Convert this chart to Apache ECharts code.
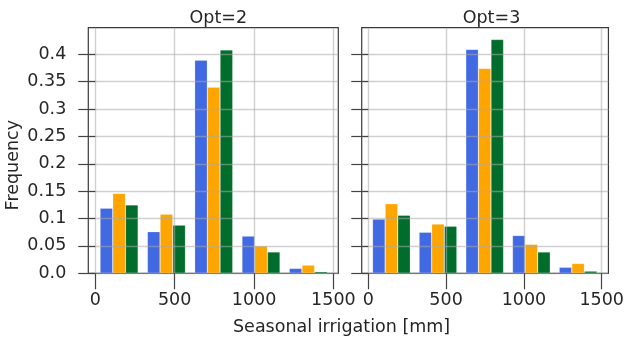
<!DOCTYPE html>
<html>
<head>
<meta charset="utf-8">
<script src="https://cdn.jsdelivr.net/npm/echarts@6/dist/echarts.min.js"></script>
<style>
  html, body { margin: 0; padding: 0; background: #fff; }
  #chart { width: 627px; height: 340px; }
</style>
</head>
<body>
<div id="chart"></div>
<script>
// Histogram bin centres (mm) for each panel
const binCentersOpt2 = [150, 448, 746, 1044, 1342];
const binCentersOpt3 = [149, 448, 748, 1048, 1348];

// Relative frequencies per bin, three groups per panel
const opt2Blue   = [0.119, 0.076, 0.389, 0.068, 0.009];
const opt2Orange = [0.146, 0.108, 0.340, 0.050, 0.015];
const opt2Green  = [0.125, 0.088, 0.408, 0.039, 0.003];

const opt3Blue   = [0.099, 0.075, 0.409, 0.069, 0.011];
const opt3Orange = [0.127, 0.090, 0.374, 0.053, 0.018];
const opt3Green  = [0.106, 0.086, 0.427, 0.039, 0.004];

const panelTitles = ['Opt=2', 'Opt=3'];
const xTickValues = [0, 500, 1000, 1500];
const xTickLabels = ['0', '500', '1000', '1500'];
const yTickValues = [0, 0.05, 0.1, 0.15, 0.2, 0.25, 0.3, 0.35, 0.4];
const yTickLabels = ['0.0', '0.05', '0.1', '0.15', '0.2', '0.25', '0.3', '0.35', '0.4'];

const colors = ['#4169e1', '#ffa500', '#006d2c'];
const FONT = 'DejaVu Sans';
const FS = 17.5;
const TEXT = '#262626';
const binWidthMm = 80;

const chart = echarts.init(document.getElementById('chart'), null, { renderer: 'canvas' });

const grids = [
  { left: 88.3, top: 27.7, width: 250, height: 245.6, xMin: -44, xMax: 1531 },
  { left: 361.7, top: 27.7, width: 249.6, height: 245.6, xMin: -42, xMax: 1543 }
];

function labelFor(values, labels) {
  return function (v) {
    const k = values.findIndex(t => Math.abs(t - v) < 1e-9);
    return k >= 0 ? labels[k] : '';
  };
}

function xAxisFor(i) {
  const g = grids[i];
  return {
    type: 'value', gridIndex: i, min: g.xMin, max: g.xMax, z: 5,
    axisLine: { show: false },
    axisTick: { show: true, customValues: xTickValues, length: 16, lineStyle: { color: '#444', width: 1.2 } },
    axisLabel: {
      customValues: xTickValues, margin: 18, fontFamily: FONT, fontSize: FS, color: TEXT,
      formatter: labelFor(xTickValues, xTickLabels)
    },
    splitLine: { show: true, lineStyle: { color: 'rgba(170,170,170,0.55)', width: 1.4 } }
  };
}
function yAxisFor(i) {
  return {
    type: 'value', gridIndex: i, min: 0, max: 0.4485, z: 5,
    axisLine: { show: false },
    axisTick: { show: true, customValues: yTickValues, length: 17, lineStyle: { color: '#444', width: 1.2 } },
    axisLabel: {
      show: i === 0, customValues: yTickValues, margin: 22,
      fontFamily: FONT, fontSize: FS, color: TEXT,
      formatter: labelFor(yTickValues, yTickLabels)
    },
    splitLine: { show: true, lineStyle: { color: 'rgba(170,170,170,0.55)', width: 1.4 } }
  };
}

function barWidthPx(i) {
  const g = grids[i];
  return binWidthMm * g.width / (g.xMax - g.xMin);
}

function pair(centers, vals) { return centers.map((c, k) => [c, vals[k]]); }

const panelData = [
  [opt2Blue, opt2Orange, opt2Green],
  [opt3Blue, opt3Orange, opt3Green]
];
const panelCenters = [binCentersOpt2, binCentersOpt3];

const series = [];
panelData.forEach((groups, i) => {
  groups.forEach((vals, j) => {
    series.push({
      type: 'bar', xAxisIndex: i, yAxisIndex: i,
      data: pair(panelCenters[i], vals),
      barWidth: barWidthPx(i), barGap: '0%',
      itemStyle: { color: colors[j], borderColor: 'rgba(255,255,255,0.35)', borderWidth: 0.6 },
      silent: true, animation: false
    });
  });
});

chart.setOption({
  animation: false,
  title: panelTitles.map((t, i) => ({
    text: t,
    left: grids[i].left + grids[i].width / 2,
    top: 4,
    textAlign: 'center',
    textStyle: { fontFamily: FONT, fontSize: FS, fontWeight: 'normal', color: TEXT }
  })),
  grid: grids.map(g => ({
    left: g.left, top: g.top, width: g.width, height: g.height,
    show: true, borderColor: '#3a3a3a', borderWidth: 1.2, backgroundColor: 'transparent'
  })),
  xAxis: [xAxisFor(0), xAxisFor(1)],
  yAxis: [yAxisFor(0), yAxisFor(1)],
  series: series,
  graphic: [
    {
      type: 'text', left: 4, top: 120, rotation: Math.PI / 2,
      style: { text: 'Frequency', fontFamily: FONT, fontSize: FS, fill: TEXT }
    },
    {
      type: 'text', left: 233, top: 318,
      style: { text: 'Seasonal irrigation [mm]', fontFamily: FONT, fontSize: FS, fill: TEXT }
    }
  ]
});
</script>
</body>
</html>
